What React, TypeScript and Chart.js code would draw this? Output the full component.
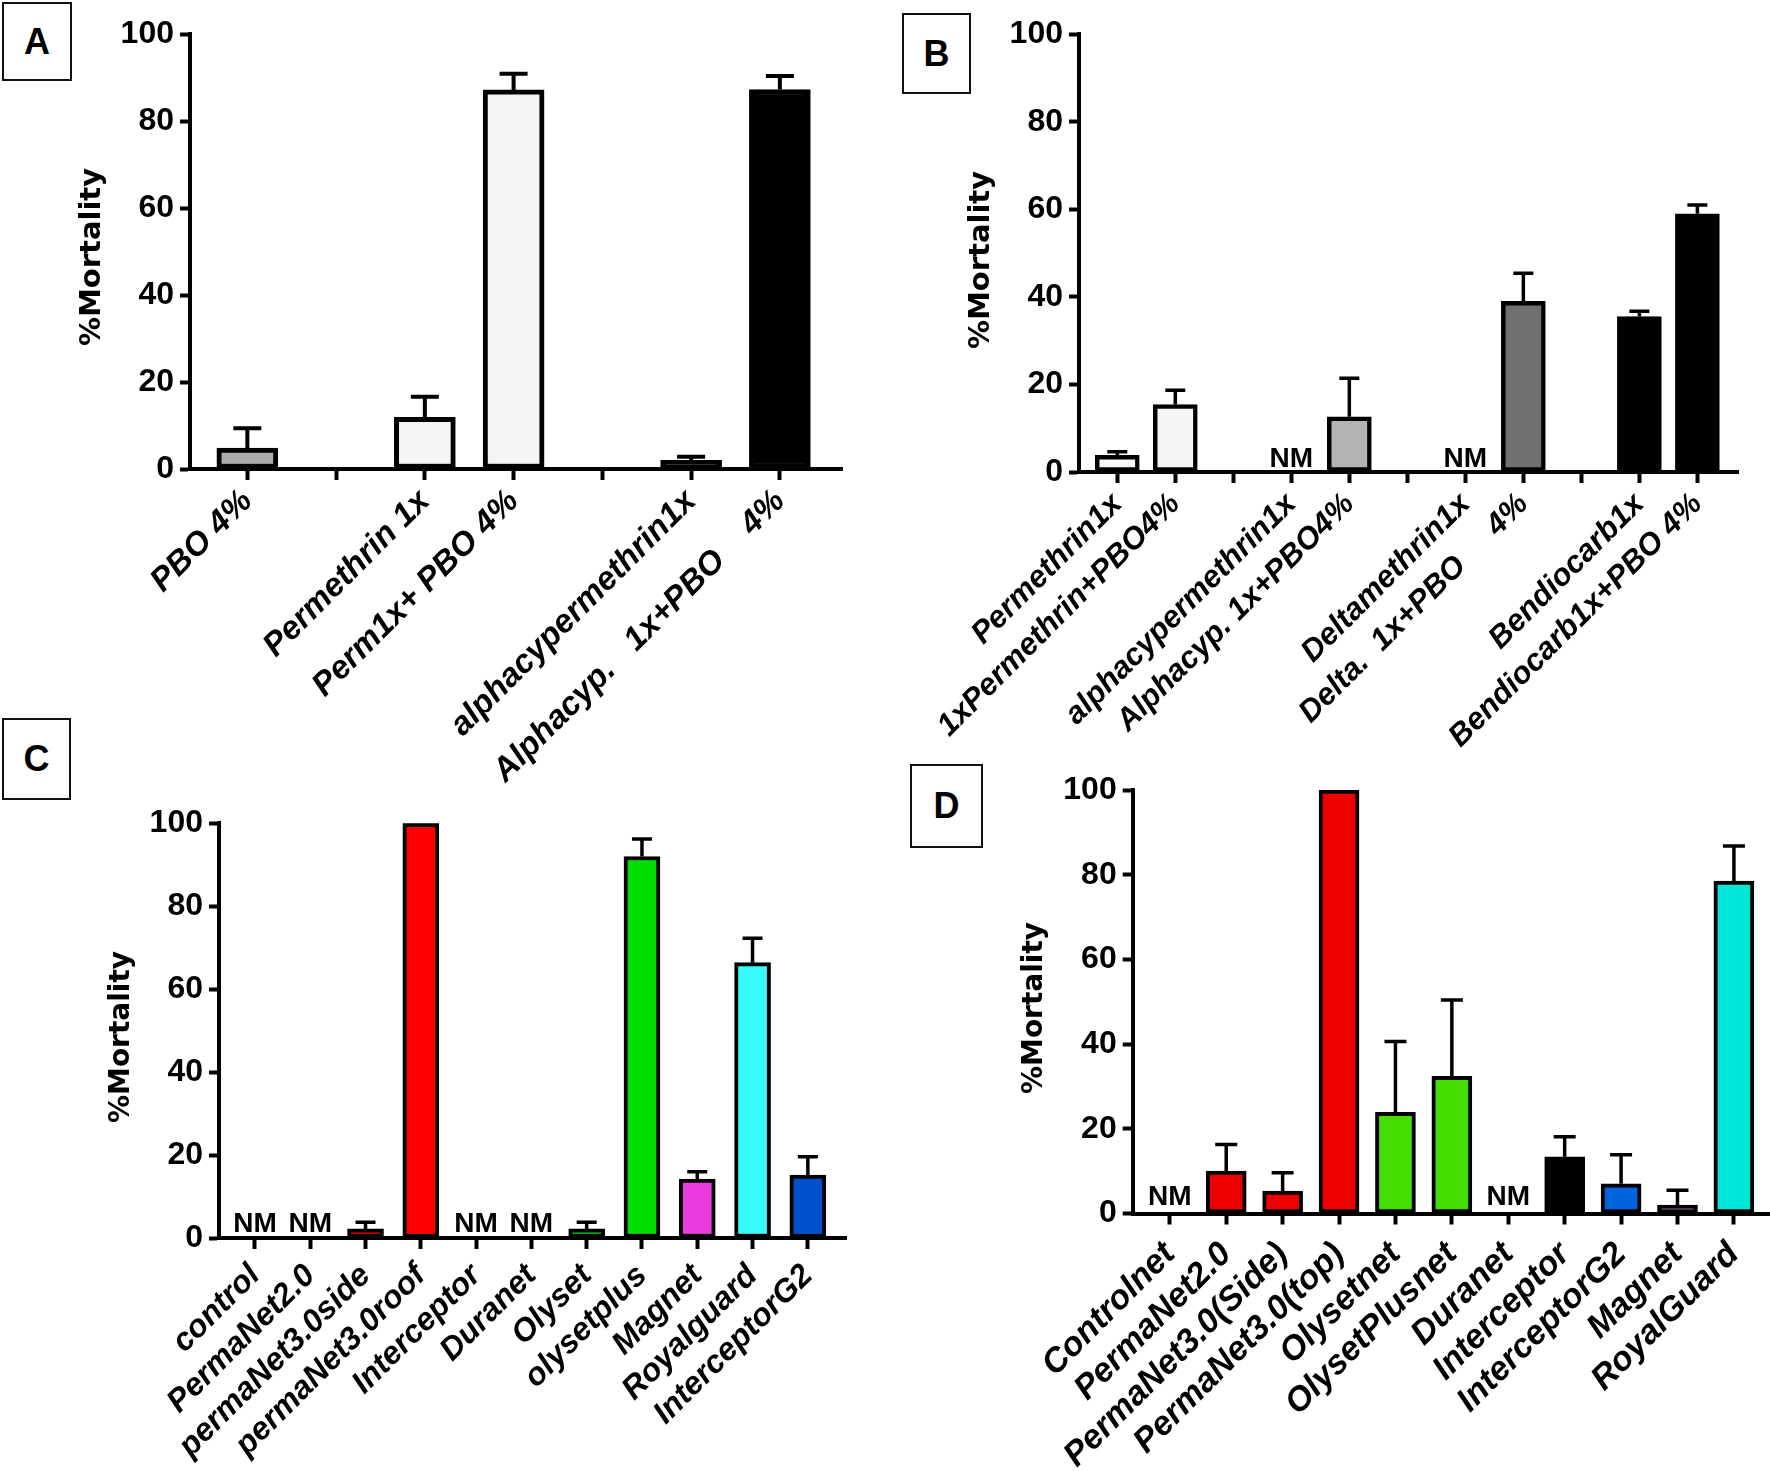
import React, { useEffect, useRef } from "react";
import { Chart, registerables } from "chart.js";
Chart.register(...registerables);

// ---------------- DATA ----------------
const yTicks = [0, 20, 40, 60, 80, 100];

// Panel A
const catsA = ["PBO 4%", "", "Permethrin 1x", "Perm1x+ PBO 4%", "", "alphacypermethrin1x", "Alphacyp.   1x+PBO    4%"];
const valsA = [4.8, null, 11.9, 87.2, null, 2.0, 87.3];
const errsA = [4.6, 0, 4.7, 3.7, 0, 0.8, 3.1];
const nmA = [false, false, false, false, false, false, false];
const colorsA = ["#adadad", "#ffffff", "#f5f5f5", "#f5f5f5", "#ffffff", "#000000", "#000000"];

// Panel B
const catsB = ["Permethrin1x", "1xPermethrin+PBO4%", "", "alphacypermethrin1x", "Alphacyp. 1x+PBO4%", "", "Deltamethrin1x", "Delta.  1x+PBO     4%", "", "Bendiocarb1x", "Bendiocarb1x+PBO 4%"];
const valsB = [3.8, 15.4, null, null, 12.6, null, null, 39.0, null, 35.5, 59.0];
const errsB = [0.8, 3.3, 0, 0, 8.8, 0, 0, 6.4, 0, 1.2, 2.0];
const nmB = [false, false, false, true, false, false, true, false, false, false, false];
const colorsB = ["#f8f8f8", "#f5f5f5", "#ffffff", "#ffffff", "#b3b3b3", "#ffffff", "#ffffff", "#717171", "#ffffff", "#000000", "#000000"];

// Panel C
const catsC = ["control", "PermaNet2.0", "permaNet3.0side", "permaNet3.0roof", "Interceptor", "Duranet", "Olyset", "olysetplus", "Magnet", "Royalguard", "InterceptorG2"];
const valsC = [null, null, 2.2, 100, null, null, 2.2, 92.0, 14.2, 66.4, 15.2];
const errsC = [0, 0, 1.6, 0, 0, 0, 1.6, 4.2, 1.8, 5.9, 4.4];
const nmC = [true, true, false, false, true, true, false, false, false, false, false];
const colorsC = ["#ffffff", "#ffffff", "#ff0000", "#ff0000", "#ffffff", "#ffffff", "#00dd00", "#00dd00", "#ea3de0", "#38fbfb", "#0050cc"];

// Panel D
const catsD = ["Controlnet", "PermaNet2.0", "PermaNet3.0(Side)", "PermaNet3.0(top)", "Olysetnet", "OlysetPlusnet", "Duranet", "Interceptor", "InterceptorG2", "Magnet", "RoyalGuard"];
const valsD = [null, 10.0, 5.3, 100, 23.9, 32.4, null, 13.4, 7.0, 2.0, 78.5];
const errsD = [0, 6.3, 4.3, 0, 16.7, 18.0, 0, 4.7, 6.9, 3.5, 8.3];
const nmD = [true, false, false, false, false, false, true, false, false, false, false];
const colorsD = ["#ffffff", "#ee0000", "#ee0000", "#ee0000", "#44dd00", "#44dd00", "#ffffff", "#000000", "#0064e0", "#80008a", "#00e6d8"];

const yTitle = "%Mortality";

// ---------------- LAYOUT / STYLE ----------------
type PanelCfg = {
  cats: string[]; vals: (number | null)[]; errs: number[]; nm: boolean[]; colors: string[];
  left: number; top: number; w: number; h: number;
  pad: { left: number; top: number; right: number; bottom: number };
  yw: number; xh: number; xMin: number; xMax: number;
  barW: number; barBorder: number; cap: number; errW: number;
  titleX: number; titleY: number; titleSize: number; nmGap: number; xFont: number; xPad: number;
};

const panels: PanelCfg[] = [
  {
    cats: catsA, vals: valsA, errs: errsA, nm: nmA, colors: colorsA,
    left: 0, top: 0, w: 885, h: 800,
    pad: { left: 70, top: 34.3, right: 43, bottom: 0 },
    yw: 120, xh: 331, xMin: -0.646, xMax: 6.70,
    barW: 61, barBorder: 5, cap: 28, errW: 4,
    titleX: 92, titleY: 257, titleSize: 29, nmGap: 5, xFont: 33, xPad: 2,
  },
  {
    cats: catsB, vals: valsB, errs: errsB, nm: nmB, colors: colorsB,
    left: 885, top: 0, w: 885, h: 800,
    pad: { left: 74, top: 34.3, right: 32, bottom: 0 },
    yw: 120, xh: 328, xMin: -0.66, xMax: 10.70,
    barW: 44, barBorder: 4.5, cap: 20, errW: 3.5,
    titleX: 981, titleY: 260, titleSize: 29, nmGap: 5, xFont: 31, xPad: 3,
  },
  {
    cats: catsC, vals: valsC, errs: errsC, nm: nmC, colors: colorsC,
    left: 0, top: 700, w: 885, h: 771,
    pad: { left: 99, top: 123.3, right: 39, bottom: 0 },
    yw: 120, xh: 233, xMin: -0.65, xMax: 10.69,
    barW: 36, barBorder: 4, cap: 20, errW: 3.5,
    titleX: 122, titleY: 1037, titleSize: 28, nmGap: 6, xFont: 32, xPad: 8,
  },
  {
    cats: catsD, vals: valsD, errs: errsD, nm: nmD, colors: colorsD,
    left: 885, top: 700, w: 885, h: 771,
    pad: { left: 127.7, top: 90, right: 0, bottom: 0 },
    yw: 120, xh: 257.5, xMin: -0.658, xMax: 10.64,
    barW: 40, barBorder: 4, cap: 22, errW: 3.5,
    titleX: 1035, titleY: 1008, titleSize: 28, nmGap: 9, xFont: 34, xPad: 10,
  },
];

const boxes = [
  { t: "A", left: 2, top: 2, w: 70, h: 79 },
  { t: "B", left: 902, top: 13, w: 69, h: 81 },
  { t: "C", left: 2, top: 718, w: 69, h: 82 },
  { t: "D", left: 910, top: 764, w: 73, h: 84 },
];

function Panel({ cfg }: { cfg: PanelCfg }) {
  const ref = useRef<HTMLCanvasElement | null>(null);
  useEffect(() => {
    const canvas = ref.current;
    if (!canvas) return;
    const decor = {
      id: "decor",
      afterDatasetsDraw(chart: any) {
        const ctx = chart.ctx;
        const xs = chart.scales.x;
        const ys = chart.scales.y;
        ctx.save();
        ctx.strokeStyle = "#000";
        ctx.lineWidth = cfg.errW;
        ctx.lineCap = "butt";
        cfg.vals.forEach((v, i) => {
          const e = cfg.errs[i];
          if (v == null || !e) return;
          const x = xs.getPixelForValue(i);
          const y0 = ys.getPixelForValue(v);
          const y1 = ys.getPixelForValue(v + e);
          ctx.beginPath();
          ctx.moveTo(x, y0);
          ctx.lineTo(x, y1);
          ctx.moveTo(x - cfg.cap / 2, y1);
          ctx.lineTo(x + cfg.cap / 2, y1);
          ctx.stroke();
        });
        ctx.fillStyle = "#000";
        ctx.font = 'bold 28px "Liberation Sans"';
        ctx.textAlign = "center";
        ctx.textBaseline = "alphabetic";
        cfg.nm.forEach((f, i) => {
          if (!f) return;
          ctx.fillText("NM", xs.getPixelForValue(i), ys.getPixelForValue(0) - cfg.nmGap);
        });
        ctx.translate(cfg.titleX - cfg.left, cfg.titleY - cfg.top);
        ctx.rotate(-Math.PI / 2);
        ctx.font = `bold ${cfg.titleSize}px "DejaVu Sans"`;
        ctx.textBaseline = "middle";
        ctx.fillText(yTitle, 0, 0);
        ctx.restore();
      },
    };
    const chart = new Chart(canvas, {
      type: "bar",
      data: {
        datasets: [
          {
            data: cfg.vals.map((v, i) => ({ x: i, y: v })) as any,
            backgroundColor: cfg.colors,
            borderColor: "#000",
            borderWidth: cfg.barBorder,
            borderSkipped: false,
            barThickness: cfg.barW,
          } as any,
        ],
      },
      options: {
        responsive: false,
        animation: false,
        devicePixelRatio: 1,
        layout: { padding: cfg.pad },
        plugins: { legend: { display: false }, tooltip: { enabled: false } },
        scales: {
          x: {
            type: "linear",
            min: cfg.xMin,
            max: cfg.xMax,
            offset: false,
            afterBuildTicks: (s: any) => {
              s.ticks = cfg.cats.map((_, i) => ({ value: i }));
            },
            afterFit: (s: any) => {
              s.height = cfg.xh;
              s.paddingLeft = 0;
              s.paddingRight = 0;
            },
            ticks: {
              autoSkip: false,
              minRotation: 45,
              maxRotation: 45,
              padding: cfg.xPad,
              color: "#000",
              font: { family: "Liberation Sans", weight: "bold", style: "italic", size: cfg.xFont },
              callback: (v: any) => cfg.cats[Math.round(v)] ?? "",
            },
            grid: { offset: false, drawOnChartArea: false, drawTicks: true, tickLength: 11, tickWidth: 4, tickColor: "#000" },
            border: { display: true, color: "#000", width: 4 },
          } as any,
          y: {
            min: 0,
            max: 100,
            afterBuildTicks: (s: any) => {
              s.ticks = yTicks.map((v) => ({ value: v }));
            },
            afterFit: (s: any) => {
              s.width = cfg.yw;
            },
            ticks: {
              padding: 6,
              color: "#000",
              font: { family: "Liberation Sans", weight: "bold", size: 32 },
            },
            grid: { drawOnChartArea: false, drawTicks: true, tickLength: 10, tickWidth: 4, tickColor: "#000" },
            border: { display: true, color: "#000", width: 4 },
          } as any,
        },
      },
      plugins: [decor],
    });
    return () => chart.destroy();
  }, [cfg]);
  return (
    <canvas
      ref={ref}
      width={cfg.w}
      height={cfg.h}
      style={{ position: "absolute", left: cfg.left, top: cfg.top, width: cfg.w, height: cfg.h }}
    />
  );
}

export default function App() {
  return (
    <div style={{ position: "absolute", left: 0, top: 0, width: 1770, height: 1471, background: "#fff", overflow: "hidden" }}>
      {panels.map((p, i) => (
        <Panel key={i} cfg={p} />
      ))}
      {boxes.map((b) => (
        <div
          key={b.t}
          style={{
            position: "absolute", left: b.left, top: b.top, width: b.w, height: b.h,
            border: "2px solid #111", boxSizing: "border-box", display: "flex",
            alignItems: "center", justifyContent: "center",
            font: 'bold 36px "Liberation Sans"', color: "#000", background: "#fff",
          }}
        >
          {b.t}
        </div>
      ))}
    </div>
  );
}
